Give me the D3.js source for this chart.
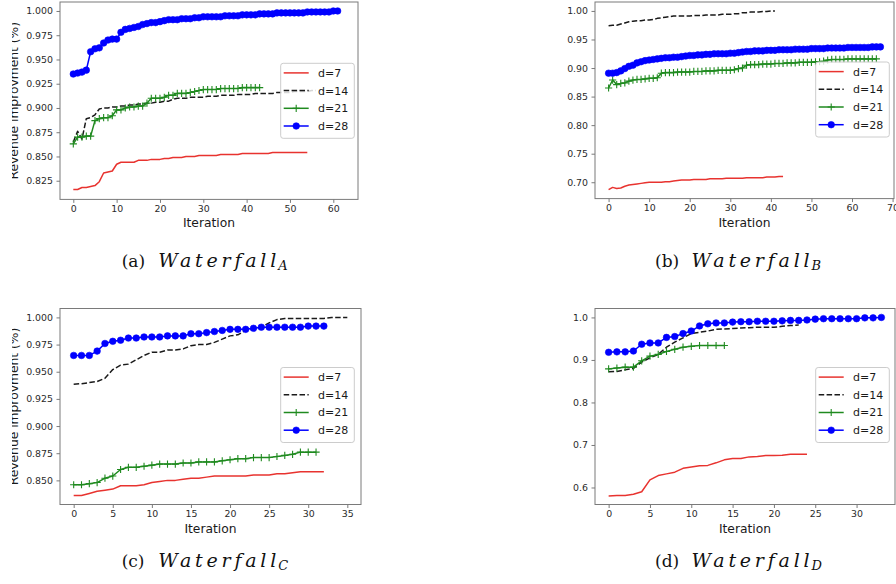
<!DOCTYPE html>
<html>
<head>
<meta charset="utf-8">
<script src="https://cdn.jsdelivr.net/npm/d3@7"></script>
<style>
  html, body { margin: 0; padding: 0; background: #fff; }
  svg { display: block; font-family: "DejaVu Sans", sans-serif; }
</style>
</head>
<body>
<svg id="chart" width="896" height="584"></svg>
<script>
// legend labels, one per depth setting
const seriesLabels = ["d=7", "d=14", "d=21", "d=28"];

// (a) Waterfall_A, values per iteration
const waterfallA7 = [0.816,0.816,0.818,0.818,0.819,0.820,0.824,0.833,0.834,0.835,
  0.842,0.844,0.844,0.844,0.844,0.846,0.846,0.846,0.847,0.847,
  0.847,0.848,0.848,0.849,0.849,0.849,0.850,0.850,0.850,0.851,
  0.851,0.851,0.851,0.851,0.852,0.852,0.852,0.852,0.852,0.853,
  0.853,0.853,0.853,0.853,0.853,0.853,0.854,0.854,0.854,0.854,
  0.854,0.854,0.854,0.854,0.854];
const waterfallA14 = [0.865,0.876,0.868,0.889,0.890,0.893,0.899,0.900,0.900,0.901,
  0.901,0.902,0.902,0.903,0.903,0.904,0.904,0.905,0.905,0.906,
  0.906,0.907,0.907,0.909,0.910,0.910,0.910,0.911,0.911,0.911,
  0.911,0.912,0.912,0.912,0.913,0.913,0.913,0.913,0.914,0.914,
  0.914,0.914,0.915,0.915,0.915,0.915,0.915,0.916,0.916,0.916,
  0.916,0.917,0.917,0.917,0.917,0.918,0.918];
const waterfallA21 = [0.863,0.870,0.870,0.871,0.871,0.887,0.889,0.890,0.890,0.892,
  0.898,0.898,0.900,0.901,0.901,0.902,0.902,0.905,0.910,0.910,
  0.910,0.911,0.913,0.913,0.915,0.915,0.915,0.916,0.917,0.918,
  0.919,0.919,0.919,0.919,0.920,0.920,0.920,0.920,0.920,0.921,
  0.921,0.921,0.921,0.921];
const waterfallA28 = [0.935,0.936,0.937,0.939,0.958,0.961,0.962,0.967,0.970,0.971,
  0.971,0.978,0.981,0.982,0.983,0.984,0.986,0.987,0.988,0.988,
  0.989,0.990,0.991,0.991,0.991,0.992,0.992,0.992,0.993,0.993,
  0.994,0.994,0.994,0.994,0.994,0.995,0.995,0.995,0.995,0.996,
  0.996,0.996,0.996,0.997,0.997,0.997,0.997,0.998,0.998,0.998,
  0.998,0.998,0.998,0.998,0.999,0.999,0.999,0.999,0.999,0.999,
  1.000,1.000];

// (b) Waterfall_B
const waterfallB7 = [0.687,0.691,0.689,0.690,0.693,0.695,0.696,0.697,0.698,0.699,
  0.700,0.700,0.700,0.700,0.701,0.701,0.702,0.703,0.704,0.704,
  0.704,0.705,0.705,0.705,0.705,0.706,0.706,0.706,0.706,0.707,
  0.707,0.707,0.707,0.707,0.708,0.708,0.708,0.708,0.708,0.709,
  0.709,0.709,0.710,0.710];
const waterfallB14 = [0.974,0.975,0.975,0.977,0.979,0.981,0.982,0.983,0.983,0.984,
  0.984,0.985,0.987,0.988,0.989,0.990,0.991,0.991,0.991,0.991,
  0.991,0.992,0.992,0.992,0.993,0.993,0.993,0.993,0.994,0.994,
  0.994,0.995,0.995,0.997,0.997,0.998,0.998,0.998,0.999,0.999,
  1.000,1.000];
const waterfallB21 = [0.865,0.879,0.871,0.873,0.874,0.877,0.879,0.880,0.880,0.881,
  0.882,0.882,0.883,0.891,0.892,0.892,0.892,0.893,0.893,0.893,
  0.893,0.894,0.894,0.894,0.895,0.895,0.895,0.896,0.896,0.896,
  0.896,0.897,0.899,0.900,0.905,0.906,0.906,0.906,0.907,0.907,
  0.907,0.908,0.908,0.908,0.909,0.909,0.909,0.910,0.910,0.910,
  0.910,0.911,0.911,0.912,0.914,0.915,0.915,0.915,0.915,0.916,
  0.916,0.916,0.916,0.916,0.916,0.916,0.916];
const waterfallB28 = [0.891,0.891,0.892,0.895,0.899,0.903,0.905,0.909,0.911,0.913,
  0.914,0.915,0.916,0.917,0.918,0.918,0.919,0.919,0.920,0.921,
  0.922,0.922,0.923,0.923,0.924,0.924,0.925,0.925,0.925,0.925,
  0.926,0.926,0.927,0.928,0.929,0.929,0.930,0.930,0.930,0.931,
  0.931,0.931,0.932,0.932,0.932,0.932,0.933,0.933,0.933,0.933,
  0.934,0.934,0.934,0.934,0.935,0.935,0.935,0.935,0.935,0.936,
  0.936,0.936,0.936,0.936,0.936,0.937,0.937,0.937];

// (c) Waterfall_C
const waterfallC7 = [0.836,0.836,0.838,0.840,0.841,0.842,0.845,0.845,0.845,0.846,
  0.848,0.849,0.850,0.850,0.851,0.852,0.852,0.853,0.854,0.854,
  0.854,0.854,0.854,0.855,0.855,0.855,0.856,0.856,0.857,0.858,
  0.858,0.858,0.858];
const waterfallC14 = [0.9385,0.939,0.940,0.941,0.944,0.952,0.956,0.957,0.961,0.965,
  0.968,0.968,0.970,0.970,0.971,0.974,0.975,0.975,0.977,0.980,
  0.983,0.984,0.988,0.989,0.991,0.995,0.998,0.999,0.999,0.999,
  0.999,0.999,0.999,1.000,1.000,1.000];
const waterfallC21 = [0.846,0.846,0.847,0.848,0.852,0.854,0.860,0.862,0.862,0.863,
  0.864,0.865,0.865,0.865,0.866,0.866,0.867,0.867,0.867,0.868,
  0.869,0.870,0.870,0.871,0.871,0.871,0.872,0.873,0.874,0.876,
  0.876,0.876];
const waterfallC28 = [0.965,0.965,0.965,0.969,0.976,0.978,0.979,0.981,0.981,0.982,
  0.982,0.982,0.983,0.983,0.983,0.985,0.985,0.986,0.987,0.988,
  0.989,0.989,0.989,0.990,0.991,0.991,0.991,0.991,0.991,0.991,
  0.992,0.992,0.992];

// (d) Waterfall_D
const waterfallD7 = [0.580,0.581,0.581,0.584,0.590,0.618,0.628,0.632,0.636,0.645,
  0.648,0.651,0.652,0.658,0.665,0.668,0.668,0.672,0.673,0.675,
  0.675,0.676,0.678,0.678,0.678];
const waterfallD14 = [0.872,0.873,0.877,0.880,0.895,0.905,0.913,0.930,0.942,0.952,
  0.962,0.965,0.968,0.972,0.973,0.974,0.975,0.976,0.977,0.977,
  0.977,0.979,0.981,0.982];
const waterfallD21 = [0.879,0.881,0.883,0.883,0.898,0.909,0.913,0.920,0.925,0.930,
  0.932,0.934,0.934,0.934,0.934];
const waterfallD28 = [0.918,0.919,0.919,0.921,0.937,0.940,0.940,0.953,0.955,0.962,
  0.968,0.980,0.985,0.987,0.987,0.989,0.990,0.990,0.991,0.991,
  0.991,0.992,0.993,0.993,0.994,0.996,0.997,0.997,0.997,0.997,
  0.997,0.999,0.999,1.000];

// tick labels
const xTicksA = [0, 10, 20, 30, 40, 50, 60];
const yTicksA = [0.825, 0.850, 0.875, 0.900, 0.925, 0.950, 0.975, 1.000];
const xTicksB = [0, 10, 20, 30, 40, 50, 60, 70];
const yTicksB = [0.70, 0.75, 0.80, 0.85, 0.90, 0.95, 1.00];
const xTicksC = [0, 5, 10, 15, 20, 25, 30, 35];
const yTicksC = [0.850, 0.875, 0.900, 0.925, 0.950, 0.975, 1.000];
const xTicksD = [0, 5, 10, 15, 20, 25, 30];
const yTicksD = [0.6, 0.7, 0.8, 0.9, 1.0];

const captionLetters = ["a", "b", "c", "d"];
const captionSubs = ["A", "B", "C", "D"];

// layout and styling (not data)
const styles = [
  { color: "#e8332f", dash: null, marker: null },
  { color: "#1a1a1a", dash: "5.5,2.4", marker: null },
  { color: "#1f8a1f", dash: null, marker: "plus" },
  { color: "#0000ff", dash: null, marker: "circle" }
];

const panels = [
  { series: [waterfallA7, waterfallA14, waterfallA21, waterfallA28], xTicks: xTicksA, yTicks: yTicksA, fmt: ".3f",
    box: [60, 358, 2, 199.4], xLim: [-3.07, 65.7], yLim: [0.80575, 1.00925],
    legend: [280.7, 63.3], ylabelX: 17.5, clipLeft: 12, caption: [121.7, 266.5] },
  { series: [waterfallB7, waterfallB14, waterfallB21, waterfallB28], xTicks: xTicksB, yTicks: yTicksB, fmt: ".2f",
    box: [595, 894, 2, 198.6], xLim: [-3.35, 70.35], yLim: [0.67135, 1.01565],
    legend: [815.7, 62], ylabelX: 559, clipLeft: 0, caption: [655, 266.5] },
  { series: [waterfallC7, waterfallC14, waterfallC21, waterfallC28], xTicks: xTicksC, yTicks: yTicksC, fmt: ".3f",
    box: [60, 361, 308.5, 504.5], xLim: [-1.75, 36.75], yLim: [0.8278, 1.0082],
    legend: [280.7, 367.5], ylabelX: 17.5, clipLeft: 12, caption: [121.7, 566.5] },
  { series: [waterfallD7, waterfallD14, waterfallD21, waterfallD28], xTicks: xTicksD, yTicks: yTicksD, fmt: ".1f",
    box: [595, 895, 308.5, 504.5], xLim: [-1.65, 34.65], yLim: [0.560, 1.021],
    legend: [815.7, 367.5], ylabelX: 564, clipLeft: 0, caption: [655, 566.5] }
];

const svg = d3.select("#chart");
const defs = svg.append("defs");

function drawMarker(g, kind, color) {
  if (kind === "circle") {
    g.append("circle").attr("r", 3.3).attr("fill", color).attr("stroke", color).attr("stroke-width", 0.6);
  } else if (kind === "plus") {
    g.append("path").attr("d", "M-3.6,0H3.6M0,-3.6V3.6")
      .attr("stroke", color).attr("stroke-width", 1.1).attr("fill", "none");
  }
}

panels.forEach((p, pi) => {
  const [left, right, top, bottom] = p.box;
  const x = d3.scaleLinear().domain(p.xLim).range([left, right]);
  const y = d3.scaleLinear().domain(p.yLim).range([bottom, top]);
  const g = svg.append("g");

  // data lines
  p.series.forEach((values, si) => {
    const st = styles[si];
    const line = d3.line().x((d, i) => x(i)).y((d) => y(d));
    g.append("path")
      .attr("d", line(values))
      .attr("fill", "none")
      .attr("stroke", st.color)
      .attr("stroke-width", 1.5)
      .attr("stroke-dasharray", st.dash)
      .attr("stroke-linejoin", "round");
    if (st.marker) {
      g.selectAll(null).data(values).join("g")
        .attr("transform", (d, i) => `translate(${x(i)},${y(d)})`)
        .each(function () { drawMarker(d3.select(this), st.marker, st.color); });
    }
  });

  // frame
  g.append("rect")
    .attr("x", left).attr("y", top)
    .attr("width", right - left).attr("height", bottom - top)
    .attr("fill", "none").attr("stroke", "#7a7a7a").attr("stroke-width", 1);

  // axes
  const xAxis = g.append("g")
    .attr("transform", `translate(0,${bottom})`)
    .call(d3.axisBottom(x).tickValues(p.xTicks).tickFormat(d3.format("d")).tickSize(3.5).tickPadding(2.5));
  const yAxis = g.append("g")
    .attr("transform", `translate(${left},0)`)
    .call(d3.axisLeft(y).tickValues(p.yTicks).tickFormat(d3.format(p.fmt)).tickSize(3.5).tickPadding(3.5));
  [xAxis, yAxis].forEach((ax) => {
    ax.select(".domain").remove();
    ax.selectAll(".tick line").attr("stroke", "#7a7a7a");
    ax.selectAll(".tick text")
      .attr("fill", "#2a2a2a")
      .style("font-family", "'DejaVu Sans', sans-serif")
      .style("font-size", "9.4px");
  });

  // axis labels
  g.append("text")
    .attr("x", (x(p.xLim[0]) + x(p.xLim[1])) / 2)
    .attr("y", bottom + 28)
    .attr("text-anchor", "middle")
    .attr("fill", "#1a1a1a")
    .style("font-size", "12.3px")
    .text("Iteration");

  const clipId = `ylab-clip-${pi}`;
  defs.append("clipPath").attr("id", clipId)
    .append("rect").attr("x", p.clipLeft).attr("y", 0).attr("width", 200).attr("height", 584);
  g.append("g").attr("clip-path", `url(#${clipId})`)
    .append("text")
    .attr("transform", `translate(${p.ylabelX},${(top + bottom) / 2}) rotate(-90)`)
    .attr("text-anchor", "middle")
    .attr("fill", "#1a1a1a")
    .style("font-size", "12.3px")
    .text("Revenue improvment (%)");

  // legend
  const leg = g.append("g").attr("transform", `translate(${p.legend[0]},${p.legend[1]})`);
  leg.append("rect")
    .attr("width", 73.6).attr("height", 75)
    .attr("rx", 2.5)
    .attr("fill", "#fff").attr("fill-opacity", 0.82)
    .attr("stroke", "#cccccc").attr("stroke-width", 1);
  seriesLabels.forEach((label, i) => {
    const st = styles[i];
    const cy = 9.6 + i * 17.7;
    leg.append("line")
      .attr("x1", 3).attr("x2", 28).attr("y1", cy).attr("y2", cy)
      .attr("stroke", st.color).attr("stroke-width", 1.5)
      .attr("stroke-dasharray", st.dash);
    if (st.marker) {
      drawMarker(leg.append("g").attr("transform", `translate(15.5,${cy})`), st.marker, st.color);
    }
    leg.append("text")
      .attr("x", 37.3).attr("y", cy).attr("dy", "0.36em")
      .attr("fill", "#1a1a1a")
      .style("font-size", "11px")
      .text(label);
  });

  // caption
  const cap = svg.append("g")
    .attr("transform", `translate(${p.caption[0]},${p.caption[1]})`)
    .style("font-family", "'DejaVu Serif', 'Liberation Serif', serif")
    .attr("fill", "#111");
  cap.append("text").style("font-size", "17px").text(`(${captionLetters[pi]})`);
  cap.append("text")
    .attr("x", 36.6)
    .attr("textLength", 118).attr("lengthAdjust", "spacing")
    .style("font-size", "19px").style("font-style", "italic")
    .text("Waterfall");
  cap.append("text")
    .attr("x", 156.5).attr("y", 3.6)
    .style("font-size", "13px").style("font-style", "italic")
    .text(captionSubs[pi]);
});
</script>
</body>
</html>
